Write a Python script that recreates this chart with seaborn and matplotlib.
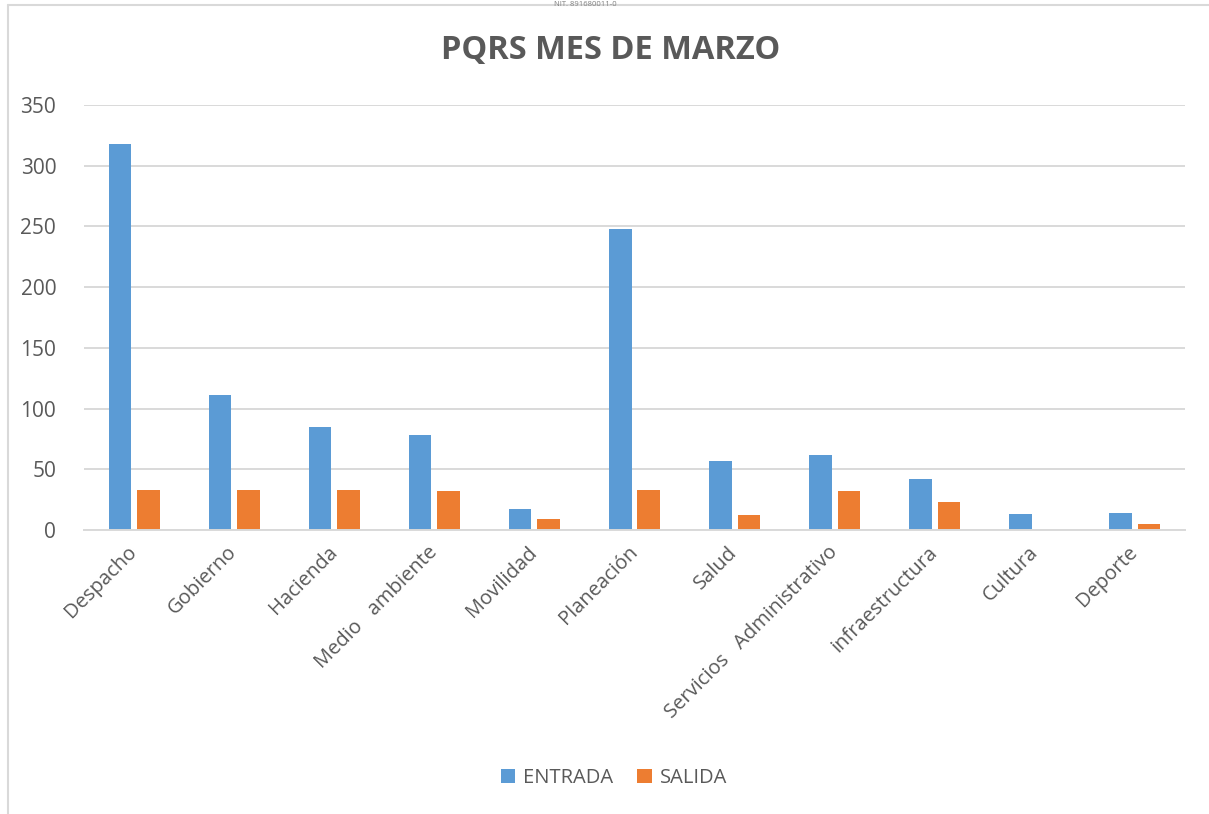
import matplotlib
matplotlib.use("Agg")
import matplotlib.pyplot as plt
import seaborn as sns
import pandas as pd
from matplotlib.lines import Line2D
from matplotlib.patches import Patch

categories = ["Despacho", "Gobierno", "Hacienda", "Medio   ambiente", "Movilidad",
              "Planeación", "Salud", "Servicios   Administrativo", "infraestructura",
              "Cultura", "Deporte"]
entrada = [318, 111, 85, 78, 17, 248, 57, 62, 42, 13, 14]
salida = [33, 33, 33, 32, 9, 33, 12, 32, 23, 0, 5]
series = ["ENTRADA", "SALIDA"]
colors = ["#5B9BD5", "#ED7D31"]
yticks = [0, 50, 100, 150, 200, 250, 300, 350]

df = pd.DataFrame({
    "cat": categories * 2,
    "serie": [series[0]] * len(categories) + [series[1]] * len(categories),
    "val": entrada + salida,
})

sns.set_theme(style="white")
plt.rcParams["font.family"] = ["Open Sans", "DejaVu Sans"]
W, H = 1209, 814
fig = plt.figure(figsize=(W / 100, H / 100), dpi=100)
ax = fig.add_axes([84 / W, 1 - 530 / H, (1185 - 84) / W, (530 - 105) / H])

sns.barplot(data=df, x="cat", y="val", hue="serie", palette=colors, ax=ax,
            width=0.57, gap=0.21, order=categories, hue_order=series,
            saturation=1, legend=False, edgecolor="none")

ax.set_xlim(-0.5, len(categories) - 0.5)
ax.set_ylim(0, 350)
ax.set_yticks(yticks)
ax.set_yticklabels([str(v) for v in yticks], fontsize=15, color="#595959")
ax.yaxis.grid(True, color="#D9D9D9", linewidth=1.4)
ax.set_axisbelow(True)
for s in ["top", "right", "left"]:
    ax.spines[s].set_visible(False)
ax.spines["bottom"].set_color("#D9D9D9")
ax.spines["bottom"].set_linewidth(1.4)
ax.tick_params(axis="both", length=0)
ax.tick_params(axis="y", pad=20)
ax.set_xlabel("")
ax.set_ylabel("")
ax.set_xticks(range(len(categories)))
ax.set_xticklabels(categories, rotation=45, ha="right", va="center",
                   rotation_mode="anchor", fontsize=14.5, color="#595959")
ax.tick_params(axis="x", pad=14)

fig.text(611 / W, 1 - 50 / H, "PQRS MES DE MARZO", ha="center", va="center",
         fontsize=23.5, fontweight="bold", color="#595959")

handles = [Patch(facecolor=c, edgecolor="none") for c in colors]
fig.legend(handles, series, loc="center", bbox_to_anchor=(614 / W, 1 - 778 / H),
           ncol=2, frameon=False, fontsize=14.5, handlelength=0.7, handleheight=0.7,
           columnspacing=1.2, handletextpad=0.4, labelcolor="#595959")

# frame lines and header text
fig.add_artist(Line2D([8 / W, 8 / W], [0, 1 - 5 / H], color="#D9D9D9", lw=1.5,
                      transform=fig.transFigure))
fig.add_artist(Line2D([8 / W, 1], [1 - 5 / H, 1 - 5 / H], color="#D9D9D9", lw=1.5,
                      transform=fig.transFigure))
fig.text(585 / W, 1 - 0.5 / H, "NIT. 891680011-0", ha="center", va="top",
         fontsize=5.5, color="#808080")

fig.savefig("out.png", dpi=100)
